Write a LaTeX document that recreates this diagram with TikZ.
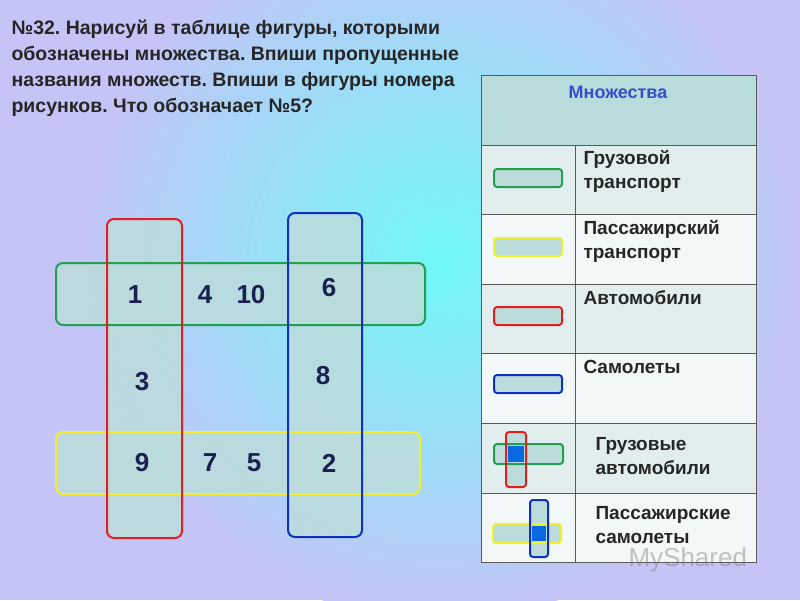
\documentclass[tikz,border=0pt]{standalone}
\usepackage{fontspec}
\setmainfont{Liberation Sans}
\frenchspacing
\begin{document}
\begin{tikzpicture}[x=1pt,y=-1pt,
  setfill/.style={rounded corners=7pt, fill=shapefill, fill opacity=0.85},
  setline/.style={rounded corners=7pt, line width=2pt},
  num/.style={font=\bfseries\fontsize{26}{26}\selectfont, text=numc},
  lbl/.style={font=\bfseries\fontsize{19}{24}\selectfont, align=left, anchor=north west, text=black!85},
  icon/.style={rounded corners=3pt, line width=2pt, fill=shapefill, minimum width=68pt, minimum height=18pt, inner sep=0pt},
  cell/.style={draw=gray!70!black, line width=0.8pt}]
\frenchspacing
\definecolor{lav}{HTML}{C4C4F6}
\definecolor{cy}{HTML}{70F8F8}
\definecolor{shapefill}{HTML}{BCDCDC}
\definecolor{numc}{HTML}{1A2050}
\definecolor{gr}{HTML}{20A050}
\definecolor{rd}{HTML}{E02020}
\definecolor{bl}{HTML}{1030C0}
\definecolor{yl}{HTML}{F0F030}
\definecolor{hd}{HTML}{B8DCDC}
\definecolor{rowa}{HTML}{E2EEEE}
\definecolor{rowb}{HTML}{F2F8F8}
\useasboundingbox (0,0) rectangle (800,600);
\begin{scope}
\clip (0,0) rectangle (800,600);
\fill[lav] (0,0) rectangle (800,600);
\shade[inner color=cy, outer color=lav] (440,260) circle (360);
\end{scope}
\node[lbl, font=\bfseries\fontsize{19.5}{26}\selectfont] (title) at (8,16) {№32. Нарисуй в таблице фигуры, которыми\\обозначены множества. Впиши пропущенные\\названия множеств. Впиши в фигуры номера\\рисунков. Что обозначает №5?};
% sets
\fill[setfill] (56,263) rectangle (425,325);
\fill[setfill] (56,432) rectangle (420,494);
\fill[setfill] (107,219) rectangle (182,538);
\fill[setfill] (288,213) rectangle (362,537);
\draw[setline, draw=gr] (56,263) rectangle (425,325);
\draw[setline, draw=yl] (56,432) rectangle (420,494);
\draw[setline, draw=rd] (107,219) rectangle (182,538);
\draw[setline, draw=bl] (288,213) rectangle (362,537);
\node[num] (n1) at (135,295) {1};
\node[num] (n4) at (205,295) {4};
\node[num] (n10) at (251,295) {10};
\node[num] (n6) at (329,288) {6};
\node[num] (n3) at (142,382) {3};
\node[num] (n8) at (323,376) {8};
\node[num] (n9) at (142,463) {9};
\node[num] (n7) at (210,463) {7};
\node[num] (n5) at (254,463) {5};
\node[num] (n2) at (329,463) {2};
% table
\fill[hd] (481,75) rectangle (756,145);
\foreach \t/\c in {145/rowa,214/rowb,284/rowa,353/rowb,423/rowa}
  \fill[\c] (481,\t) rectangle (756,\t+70);
\fill[rowb] (481,493) rectangle (756,562);
\draw[cell] (481,75) rectangle (756,562);
\foreach \t in {145,214,284,353,423,493} \draw[cell] (481,\t) -- (756,\t);
\draw[cell] (575,145) -- (575,562);
\node[font=\bfseries\fontsize{18}{20}\selectfont, text=bl!85] (hdr) at (618,92) {Множества};
\node[lbl] (t1) at (580,147) {Грузовой\\транспорт};
\node[lbl] (t2) at (580,217) {Пассажирский\\транспорт};
\node[lbl] (t3) at (580,287) {Автомобили};
\node[lbl] (t4) at (580,357) {Самолеты};
\node[lbl] (t5) at (592,434) {Грузовые\\автомобили};
\node[lbl] (t6) at (592,503) {Пассажирские\\самолеты};
\node[icon, draw=gr] (i1) at (528,178) {};
\node[icon, draw=yl] (i2) at (528,247) {};
\node[icon, draw=rd] (i3) at (528,316) {};
\node[icon, draw=bl] (i4) at (528,384) {};
% cross icons
\fill[shapefill] (494,444) rectangle (563,464);
\fill[shapefill] (506,432) rectangle (526,487);
\draw[rounded corners=3pt, line width=2pt, draw=gr] (494,444) rectangle (563,464);
\draw[rounded corners=3pt, line width=2pt, draw=rd] (506,432) rectangle (526,487);
\fill[bl!60!cyan!80!blue] (508,446) rectangle (524,462);
\fill[shapefill] (493,524) rectangle (561,543);
\fill[shapefill] (530,500) rectangle (548,557);
\draw[rounded corners=3pt, line width=2pt, draw=yl] (493,524) rectangle (561,543);
\draw[rounded corners=3pt, line width=2pt, draw=bl] (530,500) rectangle (548,557);
\fill[bl!60!cyan!80!blue] (532,526) rectangle (546,541);
\node[font=\fontsize{26}{26}\selectfont, text=gray, opacity=0.45, anchor=west] (wm) at (625,560) {MyShared};
\end{tikzpicture}
\end{document}
